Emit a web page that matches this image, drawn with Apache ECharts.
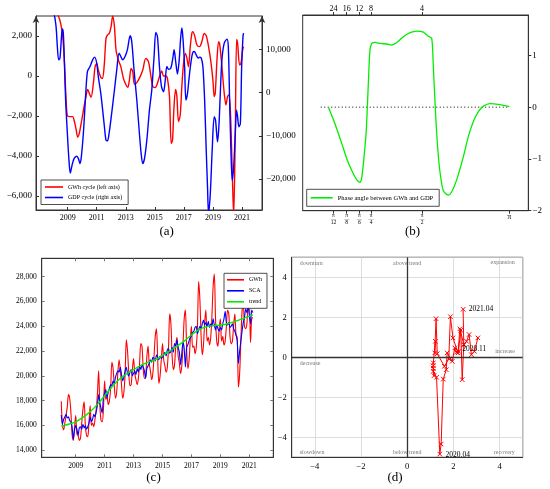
<!DOCTYPE html>
<html>
<head>
<meta charset="utf-8">
<script src="https://cdn.jsdelivr.net/npm/echarts@6.0.0/dist/echarts.min.js"></script>
<style>
html,body{margin:0;padding:0;background:#fff;}
#chart{width:550px;height:489px;}
</style>
</head>
<body>
<div id="chart"></div>
<script>
// ---------------- DATA ----------------
// (a) cycles
const gwhCycleYears = [2008.08,2008.36,2008.52,2008.66,2008.77,2008.86,2008.93,2009.00,2009.16,2009.34,2009.44,2009.57,2009.69,2009.80,2009.97,2010.13,2010.26,2010.38,2010.49,2010.61,2010.77,2010.89,2011.00,2011.11,2011.28,2011.39,2011.51,2011.64,2011.74,2011.87,2011.99,2012.10,2012.22,2012.33,2012.49,2012.66,2012.84,2013.02,2013.14,2013.25,2013.37,2013.48,2013.60,2013.76,2013.99,2014.17,2014.38,2014.56,2014.72,2014.86,2015.02,2015.14,2015.32,2015.48,2015.60,2015.76,2015.87,2016.01,2016.13,2016.22,2016.31,2016.43,2016.52,2016.63,2016.75,2016.86,2016.98,2017.11,2017.21,2017.32,2017.44,2017.55,2017.62,2017.74,2017.90,2018.08,2018.24,2018.40,2018.54,2018.70,2018.86,2019.00,2019.09,2019.16,2019.28,2019.39,2019.46,2019.62,2019.78,2019.90,2020.01,2020.10,2020.20,2020.29,2020.36,2020.43,2020.54,2020.63,2020.70,2020.84,2020.93,2021.05,2021.11];
const gwhCycleValues = [3300,3000,2630,1970,800,-700,-1700,-2000,-2030,-2030,-2200,-2620,-3050,-2870,-2200,-1530,-1030,-670,-870,-1070,-370,470,630,300,-70,-120,470,1880,2050,2130,2470,3000,2470,1300,800,470,-120,-450,-570,-200,380,220,-420,-330,-30,300,880,720,50,-530,-580,-450,-30,250,0,0,-120,-1030,-3370,-3200,-1700,-670,-1030,-2280,-1950,-530,630,1130,880,470,1470,2130,2220,2020,1550,1470,1720,2130,2020,1470,720,-200,-1030,-870,800,1720,1630,470,-870,-1450,-1030,-950,-1700,-3700,-5530,-7000,-2870,1830,1630,550,630,1300,1470];
const gdpCycleYears = [2008.08,2008.20,2008.29,2008.38,2008.47,2008.56,2008.63,2008.70,2008.77,2008.86,2008.98,2009.09,2009.18,2009.30,2009.44,2009.62,2009.74,2009.85,2009.94,2010.08,2010.22,2010.36,2010.54,2010.72,2010.86,2011.00,2011.11,2011.28,2011.41,2011.53,2011.64,2011.74,2011.85,2012.03,2012.22,2012.38,2012.54,2012.66,2012.79,2012.95,2013.11,2013.30,2013.41,2013.57,2013.76,2013.94,2014.06,2014.17,2014.29,2014.45,2014.63,2014.79,2014.95,2015.07,2015.18,2015.32,2015.46,2015.60,2015.71,2015.83,2015.94,2016.10,2016.24,2016.33,2016.45,2016.56,2016.68,2016.77,2016.86,2016.93,2017.05,2017.14,2017.25,2017.37,2017.48,2017.60,2017.71,2017.85,2017.99,2018.08,2018.20,2018.31,2018.43,2018.54,2018.63,2018.70,2018.82,2018.95,2019.09,2019.18,2019.32,2019.41,2019.51,2019.62,2019.78,2019.97,2020.06,2020.15,2020.24,2020.33,2020.43,2020.54,2020.63,2020.70,2020.79,2020.89,2020.98,2021.07,2021.11];
const gdpCycleValues = [18100,15350,10700,7600,7990,12250,14730,13800,7600,-1700,-9460,-15660,-18600,-16820,-15270,-14730,-15270,-16430,-14880,-9460,-1700,4880,6050,7600,8220,6820,3720,-150,-4030,-7900,-11000,-11160,-9460,-4800,620,5270,9150,8370,7600,8370,9920,13180,11860,5270,-1700,-9460,-14110,-16430,-15270,-11000,-4030,620,8370,13950,13020,6050,1400,230,2560,6050,5430,5660,7990,9920,6820,4340,7600,12250,14960,13020,6050,-1700,-150,3720,6820,9150,9530,8760,7990,8220,7990,6050,-1700,-13330,-21860,-28000,-23400,-13330,-5580,-6360,-11400,-7900,-150,7600,11470,12400,10700,-1700,-13330,-20300,-17200,-9460,-4030,-5580,-7900,-7130,6050,13020,13800];
const yearTicks = [2009,2011,2013,2015,2017,2019,2021];
const gwhCycleTicks = [-6000,-4000,-2000,0,2000];
const gdpCycleTicks = [-20000,-10000,0,10000];

// (b) phase angle
const phasePos = [11.4,14.3,17.3,19.5,21.7,23.9,25.4,26.1,26.9,28.1,29.1,29.8,30.6,32.1,34.3,37.2,39.4,41.7,44.6,47.6,50.5,53.5,55.7,57.2,57.9,58.6,59.4,60.6,62.3,64.6,66.0,68.2,71.2,73.4,75.6,77.8,80.1,83.0,87.4,91.6];
const phaseValues = [0,-0.32,-0.70,-0.99,-1.22,-1.40,-1.45,-1.38,-1.09,-0.51,0.46,1.10,1.23,1.25,1.23,1.22,1.20,1.25,1.36,1.44,1.47,1.45,1.37,1.33,0.78,0.14,-0.51,-1.16,-1.61,-1.70,-1.64,-1.41,-0.96,-0.57,-0.28,-0.09,0.02,0.07,0.05,0.01];
const phaseZeroLine = [8.0, 91.6];
const phaseTickPos = [13.6,19.5,25.1,30.3,52.9,91.6];
const phaseBottomLabels = ['π/12','π/8','π/6','π/4','π/2','π'];
const phaseTopLabels = ['24','16','12','8','4'];
const phaseAngleTicks = [-2,-1,0,1];

// (c) monthly GWh, SCA, trend (Jan 2008 ... Apr 2021)
const monthlyStartYear = 2008;
const gwhMonthly = [
 17950,16100,15650,16200,16800,17500,18500,18200,17100,15300,14800,15800,
 16800,15300,15200,14800,15000,16200,17300,17900,16000,15200,15100,16200,
 17600,16000,16200,15900,16500,17300,18500,20400,17700,16400,16300,17300,
 19600,18100,18300,17700,18000,19000,21100,20600,19200,18200,18700,20300,
 21300,20500,19300,18200,18700,20200,22900,22000,20300,19200,19300,20500,
 21400,20200,19700,19300,19800,21000,22600,22400,20600,19800,19900,21500,
 22400,21000,20400,19700,20200,21600,23200,23800,21400,19400,20000,21300,
 22600,21300,20800,20300,20700,22300,25000,24200,21600,20500,20900,22400,
 23100,21600,21000,20200,20800,22500,24600,25300,22300,20600,21200,22800,
 24000,22300,22400,21800,22300,23900,27600,26200,23300,21700,22500,24300,
 25300,22800,23100,22500,23100,24800,27200,28200,24600,22800,22400,23800,
 24600,22800,23200,22500,22800,24000,25300,25000,23200,22600,22800,24100,
 25000,23300,23100,19100,20200,22800,25200,25900,24000,23800,24200,25800,
 26000,22700,24600,24700];
const scaMonthly = [
 16850,16100,16500,16700,16900,16600,16700,16400,16300,15900,14900,15600,
 16000,15700,15200,15800,15900,15700,16100,15800,16000,15700,15900,16200,
 16700,16300,16500,16900,16700,17100,17600,18500,17800,17400,17000,18300,
 18600,18900,18200,18700,19000,19300,19200,19600,19400,19900,20200,20400,
 20300,20700,20100,19600,19900,20400,20700,20200,20000,20300,20500,20000,
 20200,20400,20100,20600,20300,20800,20500,20900,20700,20400,19800,20600,
 20800,21000,21300,21100,21500,21400,21200,21700,21500,21300,21600,21400,
 21500,21700,21900,21600,22100,22200,21800,22000,22300,21900,22600,22400,
 22900,22300,21900,20900,21800,22700,22200,20700,22300,22500,22800,23100,
 23200,23500,23600,23900,24000,23400,23700,24000,23800,24200,24500,24100,
 24300,24000,24400,23900,24200,24000,24600,24100,23700,24100,23800,23600,
 23900,23700,24200,24600,25200,24300,24100,24300,23900,24000,24200,23800,
 23600,23300,22800,21000,22000,22800,23600,24300,24700,25400,25100,25600,
 24900,24200,25300,25100];
const trendYears = [2008.0,2008.5,2009.0,2009.5,2010.0,2010.5,2011.0,2011.5,2012.0,2012.5,2013.0,2013.5,2014.0,2014.5,2015.0,2015.5,2016.0,2016.5,2017.0,2017.5,2018.0,2018.5,2019.0,2019.5,2020.0,2020.5,2021.0,2021.25];
const trendValues = [15950,16100,16300,16650,17100,17700,18400,19100,19700,20150,20500,20850,21100,21300,21650,22000,22400,22800,23300,23700,23950,24050,24100,24200,24380,24600,24800,24920];
const gwhLevelTicks = [14000,16000,18000,20000,22000,24000,26000,28000];

// (d) cycle clock
const cycleDates = ['2018.06','2018.07','2018.08','2018.09','2018.10','2018.11','2018.12','2019.01','2019.02','2019.03','2019.04','2019.05','2019.06','2019.07','2019.08','2019.09','2019.10','2019.11','2019.12','2020.01','2020.02','2020.03','2020.04','2020.05','2020.06','2020.07','2020.08','2020.09','2020.10','2020.11','2020.12','2021.01','2021.02','2021.03','2021.04'];
const cycleX = [3.06,2.91,2.78,2.68,2.57,2.45,2.28,2.20,1.98,1.87,1.80,1.61,1.30,1.25,1.19,1.22,1.13,1.13,1.13,1.16,1.13,1.27,1.41,1.47,1.56,1.69,1.73,1.95,2.06,2.13,2.22,2.32,2.38,2.45,2.42];
const cycleY = [0.97,0.30,0.13,1.14,0.80,0.64,1.42,0.22,0.97,2.03,-0.08,-0.45,0.18,1.93,0.22,0.80,-0.28,-0.42,-0.55,-0.92,-0.70,-1.00,-4.84,-4.34,-1.09,-0.62,0.22,-0.20,0.47,0.25,0.30,1.35,-1.12,0.62,2.40];
const labelledDates = ['2020.04','2020.11','2021.04'];
const quadrantNames = ['downturn','above trend','expansion','decrease','increase','slowdown','below trend','recovery'];

// ---------------- OPTION ----------------
const FONT = '"Liberation Serif","DejaVu Serif",serif';
const AX = '#333';
function fmtNum(v){
  const s = String(Math.abs(Math.round(v))).replace(/\B(?=(\d{3})+(?!\d))/g, ',');
  return v < 0 ? '\u2212' + s : s;
}
function pairs(xs, ys){ return xs.map((x,i)=>[x, ys[i]]); }
const monthlyPairs = arr => arr.map((v,i)=>[monthlyStartYear + i/12, v]);
function idxOf(list, v){ return list.findIndex(p => Math.abs(p - v) < 1e-6); }

const gridBase = {show:true, borderColor:AX, borderWidth:1, backgroundColor:'transparent', outerBoundsMode:'none', containLabel:false};
const lab = (size, extra) => Object.assign({color:'#000', fontFamily:FONT, fontSize:size}, extra||{});

const quadLayout = [[-4.65,4.69,'left'],[0,4.69,'center'],[4.66,4.72,'right'],[-4.65,-0.33,'left'],[4.66,0.27,'right'],[-4.65,-4.74,'left'],[0,-4.74,'center'],[4.66,-4.77,'right']];

const option = {
  animation:false,
  textStyle:{fontFamily:FONT},
  grid:[
    Object.assign({left:36, top:16, width:226, height:194}, gridBase),
    Object.assign({left:302.7, top:15, width:225.6, height:195.7}, gridBase),
    Object.assign({left:41.7, top:258.3, width:231.6, height:199}, gridBase),
    Object.assign({left:291.7, top:257.3, width:231, height:200}, gridBase)
  ],
  xAxis:[
    {type:'value', gridIndex:0, min:2006.82, max:2022.38,
     axisLine:{show:true,onZero:false,lineStyle:{color:AX}},
     axisTick:{show:true,inside:true,length:3,customValues:yearTicks,lineStyle:{color:AX}},
     axisLabel:lab(8,{customValues:yearTicks, formatter:v=>String(v), margin:4}),
     splitLine:{show:false}},
    {type:'value', gridIndex:1, min:0, max:100,
     axisLine:{show:true,onZero:false,lineStyle:{color:AX}},
     axisTick:{show:true,inside:false,length:3,customValues:phaseTickPos,lineStyle:{color:AX}},
     axisLabel:{customValues:phaseTickPos, margin:2, color:'#000', fontFamily:FONT,
       formatter:function(v){
         const i = idxOf(phaseTickPos, v); if (i < 0) return '';
         const parts = phaseBottomLabels[i].split('/');
         if (parts.length === 2) return '{n|' + parts[0] + '}\n{b|\u2014}\n{d|' + parts[1] + '}';
         return '{p|' + parts[0] + '}';
       },
       rich:{
         n:{fontSize:5.5, lineHeight:5, fontFamily:FONT, color:'#000', align:'center'},
         b:{fontSize:5, lineHeight:2, fontFamily:FONT, color:'#000', align:'center'},
         d:{fontSize:5.5, lineHeight:5.5, fontFamily:FONT, color:'#000', align:'center'},
         p:{fontSize:8, lineHeight:9, fontFamily:FONT, color:'#000'}
       }},
     splitLine:{show:false}},
    {type:'value', gridIndex:1, position:'top', min:0, max:100,
     axisLine:{show:true,onZero:false,lineStyle:{color:AX}},
     axisTick:{show:true,inside:false,length:3,customValues:phaseTickPos.slice(0,phaseTopLabels.length),lineStyle:{color:AX}},
     axisLabel:lab(8,{customValues:phaseTickPos.slice(0,phaseTopLabels.length), margin:2,
       formatter:function(v){ const i = idxOf(phaseTickPos, v); return i >= 0 && i < phaseTopLabels.length ? phaseTopLabels[i] : ''; }}),
     splitLine:{show:false}},
    {type:'value', gridIndex:2, min:2006.65, max:2022.66,
     axisLine:{show:true,onZero:false,lineStyle:{color:AX}},
     axisTick:{show:true,inside:true,length:3,customValues:yearTicks,lineStyle:{color:'#777'}},
     axisLabel:lab(7.5,{customValues:yearTicks, formatter:v=>String(v), margin:5}),
     splitLine:{show:false}},
    {type:'value', gridIndex:2, position:'top', min:2006.65, max:2022.66,
     axisLine:{show:true,onZero:false,lineStyle:{color:AX}},
     axisTick:{show:true,inside:true,length:3,customValues:yearTicks,lineStyle:{color:'#777'}},
     axisLabel:{show:false}, splitLine:{show:false}},
    {type:'value', gridIndex:3, min:-5, max:5,
     axisLine:{show:true,onZero:false,lineStyle:{color:AX}},
     axisTick:{show:false},
     axisLabel:lab(8.5,{showMinLabel:false, showMaxLabel:false, margin:5, formatter:v=>fmtNum(v)}),
     splitLine:{show:true,lineStyle:{color:'#d4d4d4',width:0.8}}}
  ],
  yAxis:[
    {type:'value', gridIndex:0, position:'left', min:-6700, max:3000,
     axisLine:{show:true,onZero:false,symbol:['none','arrow'],symbolSize:[5,7],lineStyle:{color:AX}},
     axisTick:{show:true,inside:true,length:3,customValues:gwhCycleTicks,lineStyle:{color:AX}},
     axisLabel:lab(9,{customValues:gwhCycleTicks, formatter:fmtNum, margin:4}),
     splitLine:{show:false}},
    {type:'value', gridIndex:0, position:'right', min:-27160, max:17750,
     axisLine:{show:true,onZero:false,symbol:['none','arrow'],symbolSize:[5,7],lineStyle:{color:AX}},
     axisTick:{show:true,inside:true,length:3,customValues:gdpCycleTicks,lineStyle:{color:AX}},
     axisLabel:lab(9,{customValues:gdpCycleTicks, formatter:fmtNum, margin:4}),
     splitLine:{show:false}},
    {type:'value', gridIndex:1, position:'right', min:-2, max:1.78,
     axisLine:{show:true,onZero:false,lineStyle:{color:AX}},
     axisTick:{show:true,inside:false,length:3,customValues:phaseAngleTicks,lineStyle:{color:AX}},
     axisLabel:lab(9,{customValues:phaseAngleTicks, formatter:fmtNum, margin:4}),
     splitLine:{show:false}},
    {type:'value', gridIndex:2, position:'left', min:13436, max:29478,
     axisLine:{show:true,onZero:false,lineStyle:{color:AX}},
     axisTick:{show:true,inside:true,length:3,customValues:gwhLevelTicks,lineStyle:{color:'#777'}},
     axisLabel:lab(7.5,{customValues:gwhLevelTicks, formatter:fmtNum, margin:5}),
     splitLine:{show:false}},
    {type:'value', gridIndex:2, position:'right', min:13436, max:29478,
     axisLine:{show:true,onZero:false,lineStyle:{color:AX}},
     axisTick:{show:true,inside:true,length:3,customValues:gwhLevelTicks,lineStyle:{color:'#777'}},
     axisLabel:{show:false}, splitLine:{show:false}},
    {type:'value', gridIndex:3, min:-5, max:5,
     axisLine:{show:true,onZero:false,lineStyle:{color:AX}},
     axisTick:{show:false},
     axisLabel:lab(8.5,{showMinLabel:false, showMaxLabel:false, margin:5, formatter:v=>fmtNum(v)}),
     splitLine:{show:true,lineStyle:{color:'#d4d4d4',width:0.8}}}
  ],
  legend:[
    {data:['GWh cycle (left axis)','GDP cycle (right axis)'], left:41, top:180, orient:'vertical',
     icon:'rect', itemWidth:18, itemHeight:1.6, itemGap:3.5, padding:[3.5,6,3.5,4], borderColor:'#222', borderWidth:0.8,
     backgroundColor:'#fff', selectedMode:false, textStyle:lab(6,{lineHeight:7})},
    {data:['Phase angle between GWh and GDP'], left:306.7, top:189.3, orient:'vertical',
     icon:'rect', itemWidth:22, itemHeight:1.6, padding:[4.5,6,4.5,4], borderColor:'#222', borderWidth:0.8,
     backgroundColor:'#fff', selectedMode:false, textStyle:lab(6.5,{lineHeight:8})},
    {data:['GWh','SCA','trend'], left:224, top:273.3, orient:'vertical',
     icon:'rect', itemWidth:17, itemHeight:1.6, itemGap:4, padding:[3,5,3,3], borderColor:'#222', borderWidth:0.8,
     backgroundColor:'#fff', selectedMode:false, textStyle:lab(6,{lineHeight:7})}
  ],
  series:[
    {name:'GWh cycle (left axis)', type:'line', xAxisIndex:0, yAxisIndex:0, data:pairs(gwhCycleYears,gwhCycleValues),
     smooth:0.3, symbol:'none', lineStyle:{color:'#ff0000', width:1.4}, itemStyle:{color:'#ff0000'}},
    {name:'GDP cycle (right axis)', type:'line', xAxisIndex:0, yAxisIndex:1, data:pairs(gdpCycleYears,gdpCycleValues),
     smooth:0.3, symbol:'none', lineStyle:{color:'#0000ff', width:1.4}, itemStyle:{color:'#0000ff'}},
    {name:'zero', type:'line', xAxisIndex:1, yAxisIndex:2, data:phaseZeroLine.map(x=>[x,0]),
     symbol:'none', lineStyle:{color:'#000', width:1, type:[1,2.5]}, silent:true},
    {name:'Phase angle between GWh and GDP', type:'line', xAxisIndex:1, yAxisIndex:2, data:pairs(phasePos,phaseValues),
     smooth:0.25, symbol:'none', lineStyle:{color:'#00ee00', width:1.3}, itemStyle:{color:'#00ee00'}},
    {name:'GWh', type:'line', xAxisIndex:3, yAxisIndex:3, data:monthlyPairs(gwhMonthly),
     smooth:0.3, symbol:'none', lineStyle:{color:'#ff0000', width:1.1}, itemStyle:{color:'#ff0000'}},
    {name:'SCA', type:'line', xAxisIndex:3, yAxisIndex:3, data:monthlyPairs(scaMonthly),
     smooth:0.2, symbol:'none', lineStyle:{color:'#0000ff', width:1.1}, itemStyle:{color:'#0000ff'}},
    {name:'trend', type:'line', xAxisIndex:3, yAxisIndex:3, data:pairs(trendYears,trendValues),
     smooth:0.4, symbol:'none', lineStyle:{color:'#00ee00', width:1.4}, itemStyle:{color:'#00ee00'}},
    {name:'quadrants', type:'scatter', xAxisIndex:5, yAxisIndex:5, symbolSize:1, silent:true,
     itemStyle:{color:'transparent'},
     data:quadrantNames.map((n,i)=>({value:[quadLayout[i][0], quadLayout[i][1]], name:n,
       label:{show:true, position:'inside', formatter:n, align:quadLayout[i][2], verticalAlign:'middle',
              fontSize:6, fontFamily:FONT, color:'#555'}})),
     markLine:{silent:true, symbol:'none', label:{show:false}, animation:false,
       lineStyle:{color:'#333', width:1.3, type:'solid'}, data:[{xAxis:0},{yAxis:0}]}},
    {name:'cycle', type:'line', xAxisIndex:5, yAxisIndex:5,
     symbol:'path://M0,0L10,10M10,0L0,10', symbolSize:4.5, showAllSymbol:true,
     lineStyle:{color:'#ff0000', width:1}, itemStyle:{color:'#ff0000', borderColor:'#ff0000', borderWidth:1},
     data:cycleDates.map((d,i)=>{
       const item = {value:[cycleX[i], cycleY[i]], name:d};
       if (labelledDates.indexOf(d) >= 0) {
         item.label = {show:true, position:'right', distance:3, formatter:d, fontSize:7.5, fontFamily:FONT, color:'#000',
                       offset: d === '2020.11' ? [0,-3] : (d === '2020.04' ? [0,1] : [0,0])};
       }
       return item;
     })}
  ],
  graphic:[
    {type:'text', x:166.7, y:232, style:{text:'(a)', fontSize:13, fontFamily:FONT, fill:'#000', align:'center', verticalAlign:'middle'}},
    {type:'text', x:412.5, y:232, style:{text:'(b)', fontSize:13, fontFamily:FONT, fill:'#000', align:'center', verticalAlign:'middle'}},
    {type:'text', x:153.5, y:478, style:{text:'(c)', fontSize:13, fontFamily:FONT, fill:'#000', align:'center', verticalAlign:'middle'}},
    {type:'text', x:395, y:478, style:{text:'(d)', fontSize:13, fontFamily:FONT, fill:'#000', align:'center', verticalAlign:'middle'}}
  ]
};

const chart = echarts.init(document.getElementById('chart'), null, {renderer:'canvas'});
chart.setOption(option);
</script>
</body>
</html>
